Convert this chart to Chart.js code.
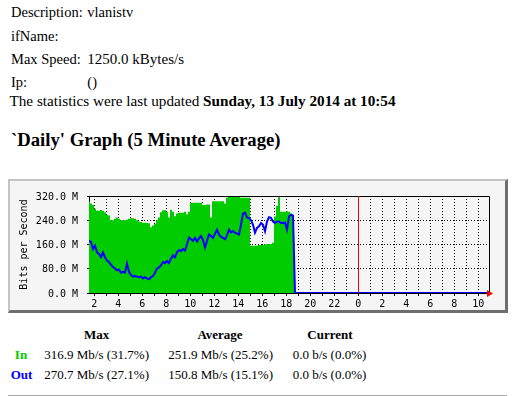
<!DOCTYPE html>
<html>
<head>
<meta charset="utf-8">
<title>vlanistv</title>
<script src="https://cdn.jsdelivr.net/npm/chart.js@4.4.1/dist/chart.umd.min.js"></script>
<style>
body{margin:0;background:#fff;color:#000;font-family:"Liberation Serif","Times New Roman",serif;}
.t{position:absolute;white-space:nowrap;line-height:1;}
.info{font-size:14.5px;}
.tbl{font-size:13px;}
.c{width:120px;text-align:center;font-weight:bold;}
#box{position:absolute;left:8px;top:179px;width:495px;height:129px;background:#f5f5f5;border-style:solid;border-width:2px 3px 3px 2px;border-color:#c4c4c4 #6e6e6e #6e6e6e #c4c4c4;}
#box canvas{display:block;}
#rule{position:absolute;left:8px;top:395px;width:499px;height:1px;background:#a8a8a8;}
</style>
</head>
<body>
<div class="t info" style="left:11px;top:5.2px">Description:</div>
<div class="t info" style="left:87.3px;top:5.2px">vlanistv</div>
<div class="t info" style="left:11px;top:28.6px">ifName:</div>
<div class="t info" style="left:11px;top:51.9px">Max Speed:</div>
<div class="t info" style="left:87.3px;top:51.9px;font-size:15px;top:51.5px">1250.0 kBytes/s</div>
<div class="t info" style="left:11px;top:75.2px">Ip:</div>
<div class="t info" style="left:87.3px;top:75.2px">()</div>
<div class="t info" style="left:9.5px;top:93.3px;font-size:15.2px">The statistics were last updated <b>Sunday, 13 July 2014 at 10:54</b></div>
<div class="t" style="left:11px;top:131px;font-size:18.7px;font-weight:bold">`Daily' Graph (5 Minute Average)</div>

<div id="box"><canvas id="chart" width="495" height="129"></canvas></div>

<div class="t tbl c" style="left:36.7px;top:328.1px">Max</div>
<div class="t tbl c" style="left:160px;top:328.1px">Average</div>
<div class="t tbl c" style="left:270px;top:328.1px">Current</div>
<div class="t tbl c" style="left:-39px;top:348.1px;color:#00cc00">In</div>
<div class="t tbl" style="left:44.3px;top:348.1px">316.9 Mb/s (31.7%)</div>
<div class="t tbl" style="left:168.3px;top:348.1px">251.9 Mb/s (25.2%)</div>
<div class="t tbl" style="left:292.7px;top:348.1px">0.0 b/s (0.0%)</div>
<div class="t tbl c" style="left:-38.5px;top:368.1px;color:#0000ff">Out</div>
<div class="t tbl" style="left:44.3px;top:368.1px">270.7 Mb/s (27.1%)</div>
<div class="t tbl" style="left:168.3px;top:368.1px">150.8 Mb/s (15.1%)</div>
<div class="t tbl" style="left:292.7px;top:368.1px">0.0 b/s (0.0%)</div>
<div id="rule"></div>

<script>
// time axis in hours since Saturday 00:00, samples every 10 minutes
const startHour = 1 + 34 / 60;       // left edge 01:34
const nowHour = 24 + 10 + 54 / 60;   // right edge 10:54 (last update)
const stepHours = 10 / 60;
const midnightHour = 24;

// In / Out in Mbit/s
const inMbps = [
  301,295,290,277,271,271,274,271,266,258,
  256,240,240,245,249,245,240,240,240,242,
  245,247,247,245,240,236,234,232,232,231,
  230,217,223,228,240,249,266,273,273,266,
  249,275,268,253,262,265,265,265,268,260,
  268,
  298,298,298,298,298,298,290,290,292,292,
  249,303,303,303,303,303,303,295,314,317,
  317,317,317,317,317,314,314,314,314,314,
  156,156,156,156,158,158,158,160,162,162,
  162,166,252,287,316,268,268,268,270,268,
  262,255,0
];
const outMbps = [
  172,169,145,156,134,129,118,134,118,107,
  102,93,86,81,75,77,67,70,67,97,
  70,59,54,56,54,52,54,48,52,48,
  45,52,56,67,81,84,91,102,99,105,
  99,113,124,118,134,142,138,145,140,161,
  183,
  177,172,182,170,180,188,175,150,172,193,
  188,182,195,209,193,185,182,177,190,209,
  200,204,199,196,193,225,262,265,249,247,
  240,225,199,215,220,231,225,204,236,250,
  248,236,231,236,236,231,231,232,209,252,
  258,255,0
];

const yTickValues = [0, 80, 160, 240, 320];
const yTickLabels = ['0.0 M', '80.0 M', '160.0 M', '240.0 M', '320.0 M'];
const xLabelHours = [2,4,6,8,10,12,14,16,18,20,22,24,26,28,30,32,34];
const xTickLabels = ['2','4','6','8','10','12','14','16','18','20','22','0','2','4','6','8','10'];

function toPoints(vals){
  const pts = vals.map((v,i)=>({x:startHour+i*stepHours, y:v}));
  // last reading holds until the last update
  pts.push({x:nowHour, y:vals[vals.length-1]});
  return pts;
}

const mono = {family:'"DejaVu Sans Mono", monospace', size:10};

// frame, midnight marker and axis arrow like the mrtg png
const mrtgFrame = {
  id:'mrtgFrame',
  afterDraw(chart){
    const {ctx, chartArea:a, scales:{x}} = chart;
    ctx.save();
    ctx.lineWidth = 1;
    ctx.strokeStyle = '#000';
    ctx.beginPath();
    ctx.moveTo(a.left, a.top+0.5);
    ctx.lineTo(a.right+0.5, a.top+0.5);
    ctx.lineTo(a.right+0.5, a.bottom);
    ctx.stroke();
    const mx = Math.round(x.getPixelForValue(midnightHour))+0.5;
    ctx.strokeStyle = '#ff0000';
    ctx.beginPath();
    ctx.moveTo(mx, a.top);
    ctx.lineTo(mx, a.bottom);
    ctx.stroke();
    ctx.fillStyle = '#ff0000';
    ctx.beginPath();
    ctx.moveTo(a.right-2, a.bottom-3);
    ctx.lineTo(a.right+4, a.bottom+0.5);
    ctx.lineTo(a.right-2, a.bottom+4);
    ctx.closePath();
    ctx.fill();
    ctx.restore();
  }
};

new Chart(document.getElementById('chart'), {
  type:'line',
  data:{datasets:[
    {label:'In', data:toPoints(inMbps), stepped:'middle', fill:'origin', backgroundColor:'#00cc00', borderColor:'#00cc00', borderWidth:0, pointRadius:0, order:2},
    {label:'Out', data:toPoints(outMbps), fill:false, borderColor:'#0000ff', borderWidth:2, pointRadius:0, tension:0, order:1}
  ]},
  options:{
    responsive:false,
    animation:false,
    events:[],
    layout:{padding:{left:0, top:12, right:16, bottom:0}},
    plugins:{legend:{display:false}, tooltip:{enabled:false}},
    scales:{
      x:{
        type:'linear', min:startHour, max:nowHour, z:1,
        afterFit:s=>{s.height=17;},
        ticks:{stepSize:1, includeBounds:false, autoSkip:false, maxRotation:0, padding:2, color:'#000', font:mono,
          callback:v=>{const k=xLabelHours.indexOf(v); return k<0?'':xTickLabels[k];}},
        grid:{color:'#000', lineWidth:1, tickLength:3, tickColor:'#000', tickBorderDash:[]},
        border:{display:true, color:'#000', width:1, dash:[1,2]}
      },
      y:{
        min:0, max:320, z:1,
        afterFit:s=>{s.width=79;},
        afterBuildTicks:s=>{s.ticks=yTickValues.map(v=>({value:v}));},
        ticks:{padding:9, labelOffset:1, color:'#000', font:mono,
          callback:v=>yTickLabels[yTickValues.indexOf(v)]},
        grid:{color:'#000', lineWidth:1, tickLength:2, tickColor:'#000', tickBorderDash:[]},
        border:{display:true, color:'#000', width:1, dash:[1,2]},
        title:{display:true, text:'Bits per Second', color:'#000', font:mono, padding:{top:8, bottom:0}}
      }
    }
  },
  plugins:[mrtgFrame]
});
</script>
</body>
</html>
